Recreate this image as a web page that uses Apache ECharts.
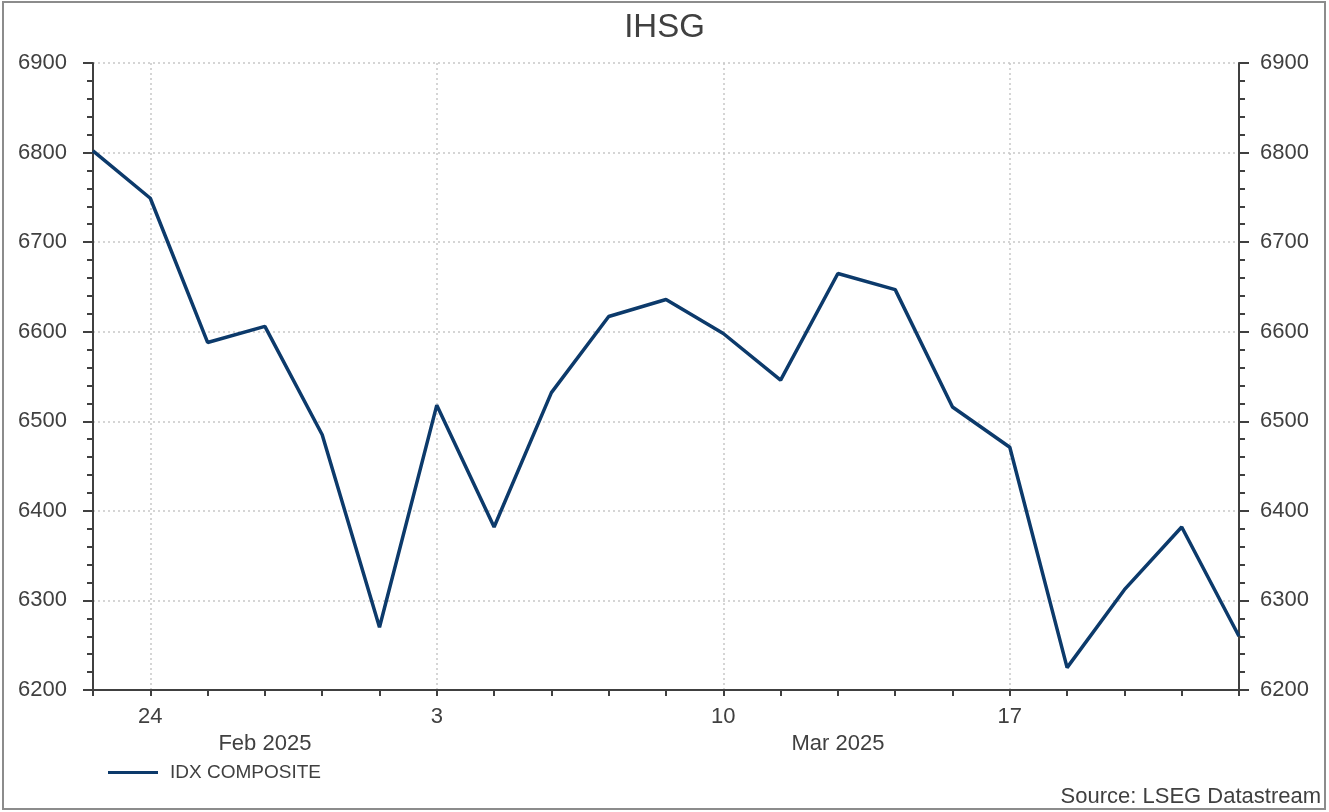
<!DOCTYPE html>
<html>
<head>
<meta charset="utf-8">
<script src="https://cdn.jsdelivr.net/npm/echarts@6/dist/echarts.min.js"></script>
<style>
  html, body { margin: 0; padding: 0; background: #fff; }
  #chart { width: 1329px; height: 812px; }
</style>
</head>
<body>
<div id="chart"></div>
<script>
// ---- data ----
const dates = [
  '2025-02-21', '2025-02-24', '2025-02-25', '2025-02-26', '2025-02-27', '2025-02-28',
  '2025-03-03', '2025-03-04', '2025-03-05', '2025-03-06', '2025-03-07',
  '2025-03-10', '2025-03-11', '2025-03-12', '2025-03-13', '2025-03-14',
  '2025-03-17', '2025-03-18', '2025-03-19', '2025-03-20', '2025-03-21'
];
const idxComposite = [
  6802, 6749, 6588, 6606, 6485, 6270,
  6518, 6382, 6532, 6617, 6636,
  6598, 6546, 6665, 6647, 6516,
  6471, 6225, 6312, 6382, 6260
];
const tickDates = ['2025-02-24', '2025-03-03', '2025-03-10', '2025-03-17'];
const tickLabels = ['24', '3', '10', '17'];
const monthKeys = ['2025-02', '2025-03'];
const monthLabels = ['Feb 2025', 'Mar 2025'];
const seriesName = 'IDX COMPOSITE';
const titleText = 'IHSG';
const sourceText = 'Source: LSEG Datastream';
const yMin = 6200, yMax = 6900, yStep = 100;

// ---- chart ----
const FONT = '"Liberation Sans", Arial, sans-serif';
const TXT = '#404040';
const AXIS = '#404040';
const LINE = '#0c3a6b';

const chart = echarts.init(document.getElementById('chart'), null, { renderer: 'canvas' });

const yAxisCommon = {
  type: 'value',
  min: yMin,
  max: yMax,
  interval: yStep,
  axisLine: { show: true, lineStyle: { color: AXIS, width: 2 } },
  axisTick: { show: true, inside: false, length: 10, lineStyle: { color: AXIS, width: 2 } },
  minorTick: { show: true, splitNumber: 5, length: 6, lineStyle: { color: AXIS, width: 2 } },
  axisLabel: { color: TXT, fontSize: 22, fontFamily: FONT, formatter: v => String(v) }
};

const option = {
  animation: false,
  backgroundColor: '#ffffff',
  title: {
    text: titleText,
    left: 'center',
    top: 6,
    textStyle: { color: TXT, fontSize: 33, fontWeight: 'normal', fontFamily: FONT }
  },
  legend: {
    left: 103,
    top: 758,
    icon: 'rect',
    itemWidth: 50,
    itemHeight: 3,
    data: [seriesName],
    textStyle: { color: TXT, fontSize: 19, fontFamily: FONT, padding: [0, 0, 0, 7] }
  },
  grid: { left: 93, right: 90, top: 63, bottom: 122, containLabel: false },
  xAxis: {
    type: 'category',
    data: dates,
    boundaryGap: false,
    axisLine: { show: true, onZero: false, lineStyle: { color: AXIS, width: 2 } },
    axisTick: { show: true, interval: 0, length: 6, lineStyle: { color: AXIS, width: 2 } },
    axisLabel: {
      interval: (i, v) => tickDates.includes(v),
      formatter: v => { const k = tickDates.indexOf(v); return k >= 0 ? tickLabels[k] : ''; },
      color: TXT, fontSize: 22, fontFamily: FONT, margin: 16
    },
    splitLine: {
      show: true,
      interval: (i, v) => tickDates.includes(v),
      lineStyle: { color: '#c8c8c8', width: 1.5, type: [2, 3] }
    }
  },
  yAxis: [
    Object.assign({}, yAxisCommon, {
      position: 'left',
      axisLabel: Object.assign({}, yAxisCommon.axisLabel, { margin: 26 }),
      splitLine: { show: true, lineStyle: { color: '#c8c8c8', width: 1.5, type: [2, 3] } }
    }),
    Object.assign({}, yAxisCommon, {
      position: 'right',
      axisLabel: Object.assign({}, yAxisCommon.axisLabel, { margin: 21 }),
      splitLine: { show: false }
    })
  ],
  series: [{
    name: seriesName,
    type: 'line',
    data: idxComposite,
    yAxisIndex: 0,
    symbol: 'none',
    lineStyle: { color: LINE, width: 3.5 },
    itemStyle: { color: LINE }
  }],
  graphic: [
    {
      id: 'frame',
      type: 'rect',
      shape: { x: 3, y: 2, width: 1322, height: 807 },
      style: { fill: 'none', stroke: '#8c8c8c', lineWidth: 2 },
      silent: true
    },
    {
      id: 'source',
      type: 'text',
      right: 8,
      top: 786,
      style: { text: sourceText, fill: TXT, font: '22px ' + FONT }
    }
  ]
};

chart.setOption(option);

// month labels centred on each month's span along the category axis
const px = v => chart.convertToPixel({ xAxisIndex: 0 }, v);
const monthGraphics = monthKeys.map((mk, m) => {
  const first = dates.findIndex(d => d.startsWith(mk));
  let last = -1;
  dates.forEach((d, i) => { if (d.startsWith(mk)) last = i; });
  const x0 = px(dates[first]);
  const x1 = last === dates.length - 1 ? px(dates[last]) : px(dates[last + 1]);
  return {
    id: 'month' + m,
    type: 'text',
    x: (x0 + x1) / 2,
    y: 744,
    style: {
      text: monthLabels[m], fill: TXT, font: '22px ' + FONT,
      align: 'center', verticalAlign: 'middle'
    }
  };
});
chart.setOption({ graphic: monthGraphics });
</script>
</body>
</html>
